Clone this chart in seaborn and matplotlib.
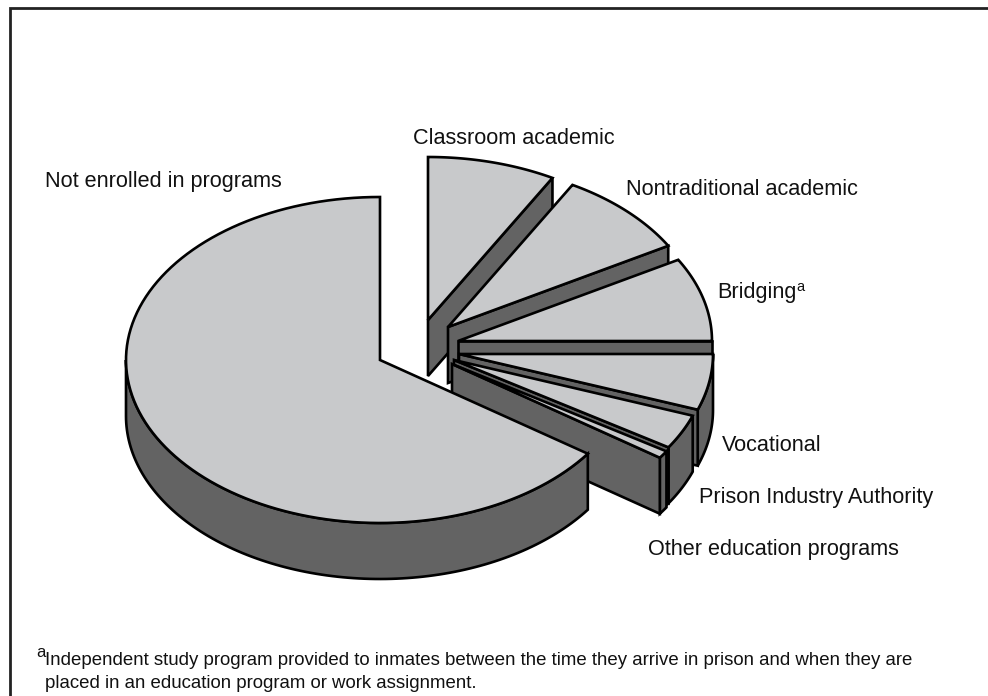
import numpy as np
import matplotlib
matplotlib.use('Agg')
import matplotlib.pyplot as plt
import seaborn as sns

# shares of inmates, percent, clockwise starting at 12 o'clock
programs = ['Classroom academic', 'Nontraditional academic', 'Bridging', 'Vocational',
            'Prison Industry Authority', 'Other education programs', 'Not enrolled in programs']
shares = [8.15, 8.55, 8.3, 5.55, 3.45, 0.75, 65.25]

# how far each slice is pulled out of the pie, pixels
explode_x = [48, 68, 78, 79, 74, 72, 0]
explode_y = [-40, -33, -19, -6, 0, 4, 0]

note_lines = ['Independent study program provided to inmates between the time they arrive in prison and when they are',
              'placed in an education program or work assignment.']

CX, CY = 380, 360
RX, RY = 254, 163
DEPTH = 56
LIGHT = '#c8c9cb'
DARK = '#636363'
LW = 1.9

sns.set_theme(style='white')
plt.rcParams['font.family'] = ['Liberation Sans', 'DejaVu Sans']

fig = plt.figure(figsize=(9.88, 6.96), dpi=100)
ax = fig.add_axes([0, 0, 1, 1])
ax.set_xlim(0, 988)
ax.set_ylim(696, 0)
ax.axis('off')

# only the top and left rules of the box are in the picture
ax.plot([10, 10, 988], [696, 8, 8], color='#222222', lw=2, solid_joinstyle='miter')


def rim(ox, oy, t0, t1, drop=0):
    t = np.radians(np.linspace(t0, t1, 120))
    return ox + RX * np.cos(t), oy - RY * np.sin(t) + drop


def draw_slice(ox, oy, t_hi, t_lo):
    # outer wall, only the part of the rim facing the viewer
    if t_lo < -0.5:
        b = min(t_hi, 0)
        x, y = rim(ox, oy, t_lo, b)
        x2, y2 = rim(ox, oy, b, t_lo, DEPTH)
        ax.fill(np.r_[x, x2], np.r_[y, y2], fc=DARK, ec='black', lw=LW)
    # cut face along the clockwise edge
    ex, ey = rim(ox, oy, t_lo, t_lo)
    ax.fill([ox, ex[0], ex[0], ox], [oy, ey[0], ey[0] + DEPTH, oy + DEPTH],
            fc=DARK, ec='black', lw=LW)
    x, y = rim(ox, oy, t_lo, t_hi)
    ax.fill(np.r_[ox, x], np.r_[oy, y], fc=LIGHT, ec='black', lw=LW)


# painter's order: clockwise from the top, the big slice last
start = 90.0
for i, share in enumerate(shares[:-1]):
    sweep = share * 3.6
    draw_slice(CX + explode_x[i], CY + explode_y[i], start, start - sweep)
    start -= sweep

# big slice runs on round to the top again
t_end = 360 + start
x, y = rim(CX, CY, 180, t_end)
x2, y2 = rim(CX, CY, t_end, 180, DEPTH)
ax.fill(np.r_[x, x2], np.r_[y, y2], fc=DARK, ec='black', lw=LW)
x, y = rim(CX, CY, 90, t_end)
ax.fill(np.r_[CX, x], np.r_[CY, y], fc=LIGHT, ec='black', lw=LW)

label_x = [413, 626, 717, 722, 699, 648, 45]
label_y = [144, 195, 298, 451, 503, 555, 187]
for name, lx, ly in zip(programs, label_x, label_y):
    ax.text(lx, ly, name, fontsize=15.6, color='#111111', va='baseline', ha='left')
ax.text(796, 291, 'a', fontsize=10.5, color='#111111', va='baseline')

ax.text(36, 657, 'a', fontsize=12, color='#111111', va='baseline')
ax.text(45, 665, note_lines[0], fontsize=13.4, color='#111111', va='baseline')
ax.text(45, 688, note_lines[1], fontsize=13.4, color='#111111', va='baseline')

fig.savefig('out.png', dpi=100, facecolor='white')
